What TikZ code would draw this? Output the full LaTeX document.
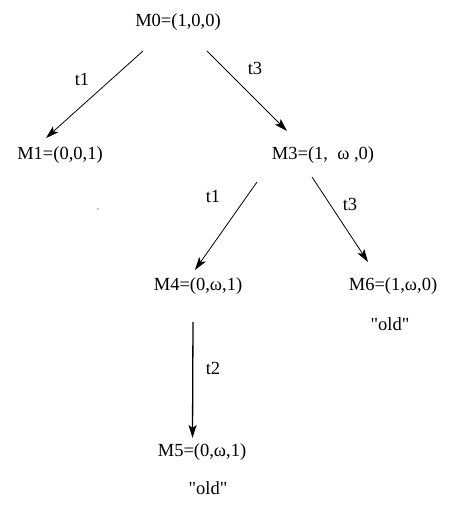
\documentclass[tikz,border=0pt]{standalone}
\usepackage{fontspec}
\setmainfont{Liberation Serif}
\usetikzlibrary{arrows.meta,calc}
\begin{document}
\begin{tikzpicture}[x=1pt,y=-1pt,
  state/.style={inner sep=0pt,font=\fontsize{18.5}{22}\selectfont},
  lbl/.style={inner sep=0pt,font=\fontsize{18.5}{22}\selectfont},
  arr/.style={-{Stealth[length=13pt,width=8pt,inset=3pt]},line width=0.8pt},
  arrb/.style={-{Stealth[length=13pt,width=8pt,inset=3pt]},line width=1.3pt}]
\useasboundingbox (0,0) rectangle (453,506);
\node[state] (M0) at (178,22) {M0=(1,0,0)};
\node[state] (M1) at (60,155) {M1=(0,0,1)};
\node[state] (M3) at (323,155) {M3=(1,\ \ ω\ ,0)};
\node[state] (M4) at (198,286) {M4=(0,ω,1)};
\node[state] (M6) at (393,286) {M6=(1,ω,0)};
\node[state] (M5) at (202,452) {M5=(0,ω,1)};
\node[lbl] (o6) at (390,324) {\textquotedbl old\textquotedbl};
\node[lbl] (o5) at (208,488) {\textquotedbl old\textquotedbl};
\node[lbl] (l1) at (82,79) {t1};
\node[lbl] (l2) at (255,68) {t3};
\node[lbl] (l3) at (213,196) {t1};
\node[lbl] (l4) at (350,204) {t3};
\node[lbl] (l5) at (213,368) {t2};
\draw[arr] ($(M0)+(-35,29)$) -- ($(M1)+(-14,-17)$);
\draw[arr] ($(M0)+(29,29)$) -- ($(M3)+(-36,-24)$);
\draw[arr] ($(M3)+(-66,27)$) -- ($(M4)+(-3,-16)$);
\draw[arr] ($(M3)+(-11,22)$) -- ($(M6)+(-25,-24)$);
\draw[arrb] ($(M4)+(-5,36)$) -- ($(M5)+(-9.5,-14)$);
\fill (98,209) circle (0.6);
\end{tikzpicture}
\end{document}
